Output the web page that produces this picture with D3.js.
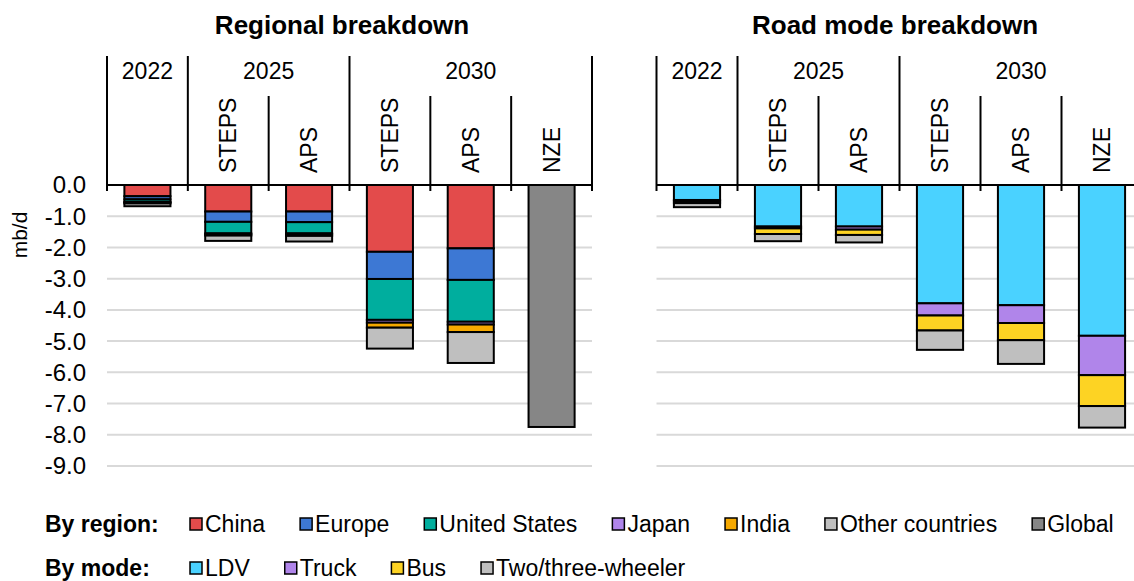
<!DOCTYPE html>
<html>
<head>
<meta charset="utf-8">
<script src="https://cdn.jsdelivr.net/npm/d3@7"></script>
<style>
  body { margin: 0; background: #fff; }
  svg { font-family: "Liberation Sans", Arial, sans-serif; }
</style>
</head>
<body>
<svg id="chart" width="1134" height="581"></svg>
<script>
// columns of both panels
const colYear = ["2022", "2025", "2025", "2030", "2030", "2030"];
const colScenario = ["", "STEPS", "APS", "STEPS", "APS", "NZE"];
const yTicks = [0, -1, -2, -3, -4, -5, -6, -7, -8, -9];

// Regional breakdown (mb/d)
const china          = [-0.36, -0.85, -0.85, -2.14, -2.03, 0];
const europe         = [-0.10, -0.33, -0.34, -0.87, -1.01, 0];
const unitedStates   = [-0.08, -0.37, -0.36, -1.31, -1.34, 0];
const japan          = [-0.02, -0.03, -0.03, -0.09, -0.09, 0];
const india          = [-0.03, -0.04, -0.05, -0.16, -0.24, 0];
const otherCountries = [-0.09, -0.17, -0.18, -0.67, -0.99, 0];
const global         = [0, 0, 0, 0, 0, -7.75];

// Road mode breakdown (mb/d)
const ldv       = [-0.48, -1.33, -1.33, -3.79, -3.85, -4.83];
const truck     = [-0.04, -0.06, -0.10, -0.39, -0.57, -1.26];
const bus       = [-0.06, -0.18, -0.17, -0.48, -0.55, -0.99];
const twoThree  = [-0.13, -0.23, -0.24, -0.62, -0.76, -0.69];

const regionSeries = [
  {name: "China", values: china, color: "#E34B4B"},
  {name: "Europe", values: europe, color: "#3D78D4"},
  {name: "United States", values: unitedStates, color: "#00AE9E"},
  {name: "Japan", values: japan, color: "#B085EA"},
  {name: "India", values: india, color: "#F5A800"},
  {name: "Other countries", values: otherCountries, color: "#BFBFBF"},
  {name: "Global", values: global, color: "#868686"}
];
const modeSeries = [
  {name: "LDV", values: ldv, color: "#4AD2FF"},
  {name: "Truck", values: truck, color: "#B085EA"},
  {name: "Bus", values: bus, color: "#FDD323"},
  {name: "Two/three-wheeler", values: twoThree, color: "#BFBFBF"}
];

const svg = d3.select("#chart");

const y = d3.scaleLinear().domain([-9, 0]).range([466, 185]);

function panel(x0, x1, title, titleX, series, showAxis) {
  const g = svg.append("g");
  const idx = d3.range(colYear.length);
  const x = d3.scaleBand().domain(idx).range([x0, x1]).padding(0);
  const bw = x.bandwidth() * 0.57;

  // gridlines
  g.selectAll("line.grid")
    .data(yTicks.filter(d => d !== 0))
    .enter().append("line")
      .attr("x1", x0).attr("x2", x1)
      .attr("y1", d => y(d)).attr("y2", d => y(d))
      .attr("stroke", "#d9d9d9").attr("stroke-width", 2);

  if (showAxis) {
    g.selectAll("text.tick")
      .data(yTicks)
      .enter().append("text")
        .attr("x", 86)
        .attr("y", d => y(d))
        .attr("dy", "0.35em")
        .attr("text-anchor", "end")
        .style("font-size", "24px")
        .text(d => d.toFixed(1));
    g.append("text")
      .attr("transform", `translate(27,${y(-1.6)}) rotate(-90)`)
      .attr("text-anchor", "middle")
      .style("font-size", "21px")
      .text("mb/d");
  }

  // stacked bars
  const table = idx.map(i => {
    const row = {i: i};
    series.forEach(s => row[s.name] = s.values[i]);
    return row;
  });
  const stack = d3.stack()
    .keys(series.map(s => s.name))
    .offset(d3.stackOffsetDiverging)(table);
  const color = d3.scaleOrdinal().domain(series.map(s => s.name)).range(series.map(s => s.color));

  stack.forEach(layer => {
    g.selectAll(null)
      .data(layer.filter(d => d[0] !== d[1]))
      .enter().append("rect")
        .attr("x", d => x(d.data.i) + (x.bandwidth() - bw) / 2)
        .attr("y", d => y(Math.max(d[0], d[1])))
        .attr("width", bw)
        .attr("height", d => Math.abs(y(d[0]) - y(d[1])))
        .attr("fill", color(layer.key))
        .attr("stroke", "#000")
        .attr("stroke-width", 2);
  });

  // zero axis
  g.append("line")
    .attr("x1", x0).attr("x2", x1)
    .attr("y1", y(0)).attr("y2", y(0))
    .attr("stroke", "#000").attr("stroke-width", 2);

  // header dividers
  const bounds = d3.range(colYear.length + 1);
  bounds.forEach(b => {
    const isYear = b === 0 || b === colYear.length || colYear[b] !== colYear[b - 1];
    const xx = b < colYear.length ? x(b) : x1;
    g.append("line")
      .attr("x1", xx).attr("x2", xx)
      .attr("y1", isYear ? 56 : 96).attr("y2", y(0) + 6)
      .attr("stroke", "#000").attr("stroke-width", 2);
  });

  // year labels
  const years = Array.from(new Set(colYear));
  years.forEach(yr => {
    const cols = idx.filter(i => colYear[i] === yr);
    const cx = (x(cols[0]) + x(cols[cols.length - 1]) + x.bandwidth()) / 2;
    g.append("text")
      .attr("x", cx).attr("y", 71).attr("dy", "0.35em")
      .attr("text-anchor", "middle")
      .style("font-size", "23px")
      .text(yr);
  });

  // scenario labels
  idx.filter(i => colScenario[i]).forEach(i => {
    const cx = x(i) + x.bandwidth() / 2;
    g.append("text")
      .attr("transform", `translate(${cx + 8},173) rotate(-90)`)
      .attr("text-anchor", "start")
      .style("font-size", "23px")
      .text(colScenario[i]);
  });

  svg.append("text")
    .attr("x", titleX).attr("y", 25).attr("dy", "0.35em")
    .attr("text-anchor", "middle")
    .style("font-size", "26px")
    .style("font-weight", "bold")
    .text(title);
}

panel(107, 592, "Regional breakdown", 342, regionSeries, true);
panel(656.5, 1142.5, "Road mode breakdown", 895, modeSeries, false);

// legend
function legendRow(label, series, yc) {
  const lg = svg.append("g");
  lg.append("text")
    .attr("x", 45).attr("y", yc).attr("dy", "0.35em")
    .style("font-size", "23px").style("font-weight", "bold")
    .text(label);
  let cx = 190;
  series.forEach(s => {
    lg.append("rect")
      .attr("x", cx).attr("y", yc - 6)
      .attr("width", 12).attr("height", 12)
      .attr("fill", s.color)
      .attr("stroke", "#000").attr("stroke-width", 1.5);
    const t = lg.append("text")
      .attr("x", cx + 15).attr("y", yc).attr("dy", "0.35em")
      .style("font-size", "23px")
      .text(s.name);
    cx += 15 + t.node().getComputedTextLength() + 35;
  });
}
legendRow("By region:", regionSeries, 524);
legendRow("By mode:", modeSeries, 568);
</script>
</body>
</html>
